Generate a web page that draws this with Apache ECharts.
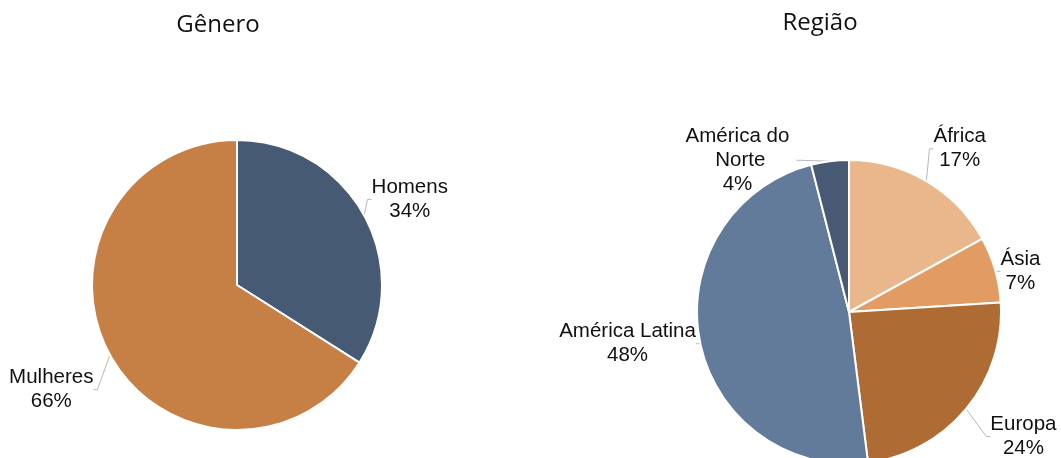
<!DOCTYPE html>
<html>
<head>
<meta charset="utf-8">
<script src="https://cdn.jsdelivr.net/npm/echarts@6/dist/echarts.min.js"></script>
<style>
  html, body { margin: 0; padding: 0; background: #ffffff; }
  #chart { width: 1061px; height: 458px; }
</style>
</head>
<body>
<div id="chart"></div>
<script>
// Gender split
const genderNames = ['Homens', 'Mulheres'];
const genderValues = [34, 66];
// Regional split
const regionNames = ['África', 'Ásia', 'Europa', 'América Latina', 'América do Norte'];
const regionValues = [17, 7, 24, 48, 4];

const genderColors = ['#475a74', '#c67f45'];
const regionColors = ['#eab68b', '#e29b62', '#ae6b33', '#627b9b', '#485a73'];

// Fine placement of each label relative to where the pie layout puts it
const labelNudge = {
  'Homens': [-12, -10],
  'Mulheres': [3, 29],
  'África': [-8, -22],
  'Ásia': [-15, 5],
  'Europa': [6, 20],
  'América Latina': [17, 1],
  'América do Norte': [-23, 11]
};
const seriesNames = [genderNames, regionNames];

function buildData(names, values, colors) {
  return names.map((n, i) => {
    const item = { name: n, value: values[i], itemStyle: { color: colors[i] } };
    if (n === 'América do Norte') {
      item.label = { width: 118, overflow: 'break' };
    }
    return item;
  });
}

const labelStyle = {
  show: true,
  position: 'outside',
  formatter: '{b}\n{d}%',
  fontFamily: 'Liberation Sans, Arial, sans-serif',
  fontSize: 20.5,
  lineHeight: 24,
  color: '#111111'
};

const labelLineStyle = {
  show: true,
  length: 12,
  length2: 4,
  lineStyle: { color: '#b8b8b8', width: 1 }
};

function centeredLayout(params) {
  const r = params.labelRect;
  const name = seriesNames[params.seriesIndex][params.dataIndex];
  const nudge = labelNudge[name] || [0, 0];
  return {
    x: r.x + r.width / 2 + nudge[0],
    y: r.y + r.height / 2 + nudge[1],
    align: 'center',
    verticalAlign: 'middle'
  };
}

const titleText = { fontFamily: 'Open Sans, Noto Sans, sans-serif', fontWeight: 'normal', fontSize: 24, color: '#111111' };

const chart = echarts.init(document.getElementById('chart'), null, { renderer: 'canvas' });
chart.setOption({
  animation: false,
  backgroundColor: '#ffffff',
  title: [
    { text: 'Gênero', left: 213, top: 8, textAlign: 'center', textStyle: titleText },
    { text: 'Região', left: 815, top: 6, textAlign: 'center', textStyle: titleText }
  ],
  series: [
    {
      type: 'pie',
      center: [237, 285],
      radius: 145,
      startAngle: 90,
      clockwise: true,
      avoidLabelOverlap: false,
      itemStyle: { borderColor: '#ffffff', borderWidth: 2 },
      label: labelStyle,
      labelLine: labelLineStyle,
      labelLayout: centeredLayout,
      data: buildData(genderNames, genderValues, genderColors)
    },
    {
      type: 'pie',
      center: [849, 312],
      radius: 152,
      startAngle: 90,
      clockwise: true,
      avoidLabelOverlap: false,
      itemStyle: { borderColor: '#ffffff', borderWidth: 2 },
      label: labelStyle,
      labelLine: labelLineStyle,
      labelLayout: centeredLayout,
      data: buildData(regionNames, regionValues, regionColors)
    }
  ]
});
</script>
</body>
</html>
